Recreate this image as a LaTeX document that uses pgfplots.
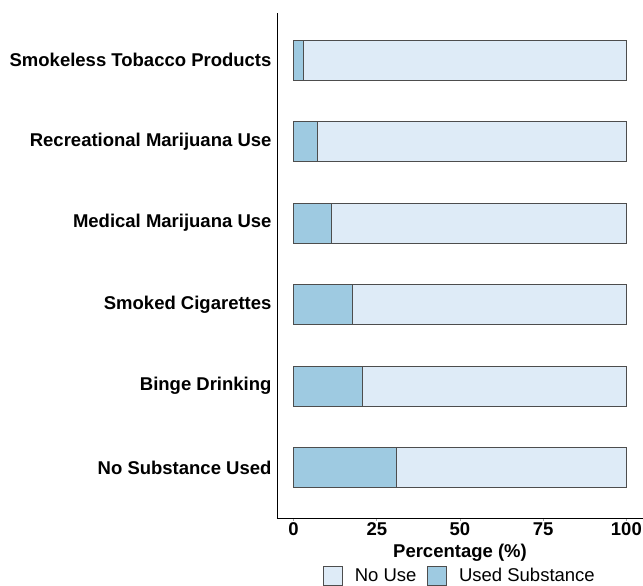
\documentclass[border=0pt]{standalone}
\usepackage{pgfplots}
\pgfplotsset{compat=1.18}
\usepackage{fontspec}
\setmainfont{Liberation Sans}
\definecolor{usedc}{HTML}{9ECAE1}
\definecolor{nousec}{HTML}{DEEBF7}
\definecolor{edgec}{HTML}{4D4D4D}
\pgfplotstableread{
y used nouse
0 30.8 69.2
1 20.8 79.2
2 17.7 82.3
3 11.3 88.7
4 7.0 93.0
5 2.8 97.2
}\datatab
\newcommand{\fsz}{\fontsize{18.5}{21}\selectfont}
\begin{document}
\begin{tikzpicture}
\begin{axis}[
  scale only axis,
  width=366pt, height=505pt,
  xbar stacked,
  bar width=40pt,
  xmin=-5, xmax=105,
  ymin=-0.62, ymax=5.58,
  axis x line*=bottom,
  axis y line*=left,
  axis line style={black, line width=0.8pt},
  xtick={0,25,50,75,100},
  xticklabels={0,25,50,75,100},
  xticklabel style={font=\fsz\bfseries, anchor=base, yshift=-15pt},
  tick align=outside,
  major tick length=3pt,
  xtick style={draw=gray!70, line width=0.8pt},
  ytick={0,1,2,3,4,5},
  yticklabels={No Substance Used, Binge Drinking, Smoked Cigarettes, Medical Marijuana Use, Recreational Marijuana Use, Smokeless Tobacco Products},
  yticklabel style={font=\fsz\bfseries, xshift=1pt},
  ytick style={draw=none},
  xlabel={Percentage (\%)},
  xlabel style={font=\fsz\bfseries, at={(axis description cs:0.5,0)}, anchor=base, yshift=-40pt},
  legend columns=2,
  legend style={draw=none, fill=none, at={(axis description cs:0.5,0)}, anchor=north, yshift=-48pt,
    inner sep=0pt, outer sep=0pt,
    font=\fsz,
    /tikz/every odd column/.append style={column sep=10pt},
    /tikz/every even column/.append style={column sep=9pt}},
  legend image code/.code={\draw[#1, draw=edgec, line width=0.6pt] (0pt,-9.5pt) rectangle (19pt,9.5pt);},
]
\addlegendimage{fill=nousec}
\addlegendentry{No Use}
\addlegendimage{fill=usedc}
\addlegendentry{Used Substance}
\addplot[forget plot, fill=usedc, draw=edgec, line width=0.7pt] table[x=used, y=y] {\datatab};
\addplot[forget plot, fill=nousec, draw=edgec, line width=0.7pt] table[x=nouse, y=y] {\datatab};
\end{axis}
\pgfresetboundingbox
\path (current axis.south west) ++(-277pt,-68pt) rectangle ++(643pt,586pt);
\end{tikzpicture}
\end{document}
